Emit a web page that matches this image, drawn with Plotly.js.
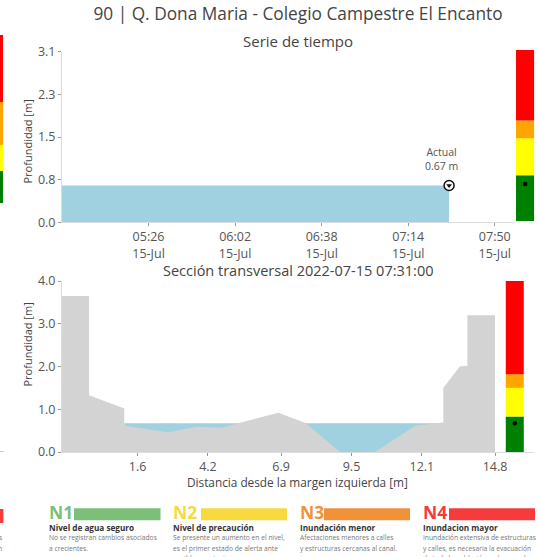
<!DOCTYPE html>
<html><head><meta charset="utf-8">
<script src="https://cdn.plot.ly/plotly-3.0.1.min.js"></script>
<style>html,body{margin:0;padding:0;background:#fff;} #chart{width:539px;height:557px;}</style>
</head><body><div id="chart"></div>
<script>
// ---------- data ----------
const chartTitle = '90 | Q. Dona Maria - Colegio Campestre El Encanto';
const seriesTitle = 'Serie de tiempo';
const sectionTitle = 'Sección transversal 2022-07-15 07:31:00';
const depthTitle = 'Profundidad [m]';
const distanceTitle = 'Distancia desde la margen izquierda [m]';

const times = ['2022-07-15 04:50','2022-07-15 05:00','2022-07-15 05:10','2022-07-15 05:20','2022-07-15 05:30',
  '2022-07-15 05:40','2022-07-15 05:50','2022-07-15 06:00','2022-07-15 06:10','2022-07-15 06:20',
  '2022-07-15 06:30','2022-07-15 06:40','2022-07-15 06:50','2022-07-15 07:00','2022-07-15 07:10',
  '2022-07-15 07:20','2022-07-15 07:31'];
const depth = [0.67,0.67,0.67,0.67,0.67,0.67,0.67,0.67,0.67,0.67,0.67,0.67,0.67,0.67,0.67,0.67,0.67];
const currentTime = '2022-07-15 07:31';
const currentDepth = 0.67;
const timeRange = ['2022-07-15 04:50','2022-07-15 07:58'];
const timeTickVals = ['2022-07-15 05:26','2022-07-15 06:02','2022-07-15 06:38','2022-07-15 07:14','2022-07-15 07:50'];
const timeTickText = ['05:26<br>15-Jul','06:02<br>15-Jul','06:38<br>15-Jul','07:14<br>15-Jul','07:50<br>15-Jul'];
const depthTickVals = [0, 0.775, 1.55, 2.325, 3.1];
const depthTickText = ['0.0','0.8','1.5','2.3','3.1'];
const seriesMax = 3.1;

const terrainX = [-1.19,-0.19,-0.19,1.11,1.11,2.74,3.78,4.71,6.80,7.80,9.08,10.37,11.85,12.89,12.89,13.50,13.78,13.78,14.80];
const terrainY = [3.65,3.65,1.33,1.02,0.615,0.46,0.59,0.57,0.92,0.68,0.0,0.0,0.615,0.69,1.50,2.00,2.02,3.20,3.20];
const waterX = [1.11, 12.89];
const waterY = [0.67, 0.67];
const distRange = [-1.19, 16.24];
const distTickVals = [1.6, 4.2, 6.9, 9.5, 12.1, 14.8];
const sectionTickVals = [0, 1, 2, 3, 4];
const sectionMax = 4.0;

const levelBase = [0, 0.83, 1.5, 1.82];
const levelColors = ['green','yellow','orange','red'];

const legendCodes = ['N1','N2','N3','N4'];
const legendColors = ['#7dbf7a','#f8d940','#f0923a','#f53b3b'];
const legendNames = ['Nivel de agua seguro','Nivel de precaución','Inundación menor','Inundacion mayor'];
const legendDesc = [
  ['No se registran cambios asociados','a crecientes.'],
  ['Se presente un aumento en el nivel,','es el primer estado de alerta ante','posibles crecientes.'],
  ['Afectaciones menores a calles','y estructuras cercanas al canal.'],
  ['Inundación extensiva de estructuras','y calles, es necesaria la evacuación','de toda la población en la zona de']
];
const sideLevelColors = ['red','orange','yellow','green'];

// ---------- layout helpers ----------
const W = 539, H = 557;
const px = p => p / W;
const py = p => 1 - p / H;
const FONT = '"Open Sans", Lato, sans-serif';
const TXT = '#444';

const traces = [];
traces.push({x: times, y: depth, type: 'scatter', mode: 'lines', fill: 'tozeroy',
  fillcolor: '#9fd1e1', line: {width: 0, color: '#9fd1e1'}, xaxis: 'x', yaxis: 'y', hoverinfo: 'skip'});
traces.push({x: [currentTime], y: [currentDepth], type: 'scatter', mode: 'markers',
  marker: {symbol: 'circle', size: 10, color: 'white', line: {color: '#111', width: 1.5}}, xaxis: 'x', yaxis: 'y'});
traces.push({x: [currentTime], y: [currentDepth], type: 'scatter', mode: 'markers',
  marker: {symbol: 'triangle-down', size: 5, color: '#111'}, xaxis: 'x', yaxis: 'y'});

function levelBars(xv, w, top, xa, ya) {
  for (let i = 0; i < levelBase.length; i++) {
    const b = levelBase[i];
    const t = i + 1 < levelBase.length ? levelBase[i + 1] : top;
    traces.push({type: 'bar', x: [xv], y: [t - b], base: [b], width: [w],
      marker: {color: levelColors[i], line: {width: 0}}, xaxis: xa, yaxis: ya, hoverinfo: 'skip'});
  }
  traces.push({x: [xv], y: [currentDepth], type: 'scatter', mode: 'markers',
    marker: {size: 4.5, color: '#000'}, xaxis: xa, yaxis: ya});
}
levelBars(0, 1, seriesMax, 'x2', 'y2');

traces.push({x: waterX, y: waterY, type: 'scatter', mode: 'lines', fill: 'tozeroy',
  fillcolor: '#9fd1e1', line: {width: 0}, xaxis: 'x3', yaxis: 'y3'});
traces.push({x: terrainX, y: terrainY, type: 'scatter', mode: 'lines', fill: 'tozeroy',
  fillcolor: '#d3d3d3', line: {width: 0, color: '#d3d3d3'}, xaxis: 'x3', yaxis: 'y3'});
levelBars(15.53, 0.665, sectionMax, 'x3', 'y3');

const axisCommon = {showgrid: false, zeroline: false, showline: true, linecolor: '#dcdcdc', linewidth: 1,
  ticks: 'outside', ticklen: 3, tickcolor: '#999', tickfont: {size: 12.5, color: '#555', family: FONT}};

const annotations = [];
const shapes = [];
function ann(text, x, y, opts) {
  annotations.push(Object.assign({xref: 'paper', yref: 'paper', x: px(x), y: py(y), text: text,
    showarrow: false, xanchor: 'center', yanchor: 'middle', font: {size: 12, color: TXT, family: FONT}}, opts || {}));
}
ann(seriesTitle, 297.5, 41.3, {font: {size: 15, color: TXT, family: FONT}});
ann(sectionTitle, 297.5, 270.3, {font: {size: 14.5, color: TXT, family: FONT}});
ann(depthTitle, 26.5, 141, {textangle: -90, font: {size: 11, color: TXT, family: FONT}});
ann(depthTitle, 26.5, 344, {textangle: -90, font: {size: 11, color: TXT, family: FONT}});
ann(distanceTitle, 297.5, 482.4, {font: {size: 11.8, color: TXT, family: FONT}});
annotations.push({xref: 'x', yref: 'y', x: currentTime, y: currentDepth, text: 'Actual<br>0.67 m',
  showarrow: false, xanchor: 'center', yanchor: 'bottom', xshift: -8, yshift: 10,
  font: {size: 10.5, color: '#555', family: FONT}});

const colX = [47, 170.5, 297.5, 421];
const barX0 = [74, 201, 324, 449];
const barX1 = [160.5, 287, 410, 535];
for (let i = 0; i < legendCodes.length; i++) {
  ann('<b>' + legendCodes[i] + '</b>', colX[i], 512, {xanchor: 'left', font: {size: 17.5, color: legendColors[i], family: FONT}});
  shapes.push({type: 'rect', xref: 'paper', yref: 'paper', x0: px(barX0[i]), x1: px(barX1[i]), y0: py(520.2), y1: py(508.2),
    fillcolor: legendColors[i], line: {width: 0}});
  ann('<b>' + legendNames[i] + '</b>', colX[i], 527, {xanchor: 'left', font: {size: 8.2, color: '#333', family: FONT}});
  legendDesc[i].forEach((l, j) => ann(l, colX[i], 537.6 + j * 10.6, {xanchor: 'left', font: {size: 6.7, color: '#777', family: FONT}}));
}
const sideY = [35, 102, 145, 171, 203];
for (let i = 0; i < 4; i++) {
  shapes.push({type: 'rect', xref: 'paper', yref: 'paper', x0: 0, x1: px(3), y0: py(sideY[i + 1]), y1: py(sideY[i]),
    fillcolor: sideLevelColors[i], line: {width: 0}});
}
shapes.push({type: 'line', xref: 'paper', yref: 'paper', x0: 0, x1: px(4), y0: py(451.5), y1: py(451.5), line: {color: '#ccc', width: 1}});
shapes.push({type: 'rect', xref: 'paper', yref: 'paper', x0: 0, x1: px(3.4), y0: py(523), y1: py(509), fillcolor: '#f53b3b', line: {width: 0}});
ann('s', 3.5, 537.6, {xanchor: 'right', font: {size: 6.7, color: '#777', family: FONT}});
ann('n', 3.5, 548.2, {xanchor: 'right', font: {size: 6.7, color: '#777', family: FONT}});

const layout = {
  width: W, height: H, margin: {l: 0, r: 0, t: 0, b: 0}, paper_bgcolor: '#fff', plot_bgcolor: '#fff',
  showlegend: false, barmode: 'overlay', font: {family: FONT, color: TXT},
  title: {text: chartTitle, x: px(298), y: py(14.4), xref: 'paper', yref: 'paper', xanchor: 'center', yanchor: 'middle',
    font: {size: 17.3, color: TXT, family: FONT}},
  xaxis: Object.assign({}, axisCommon, {domain: [px(62), px(514)], anchor: 'y', type: 'date', range: timeRange,
    tickmode: 'array', tickvals: timeTickVals, ticktext: timeTickText}),
  yaxis: Object.assign({}, axisCommon, {domain: [py(222.4), py(51.6)], anchor: 'x', range: [0, seriesMax],
    tickmode: 'array', tickvals: depthTickVals, ticktext: depthTickText}),
  xaxis2: {domain: [px(516), px(534.3)], anchor: 'y2', range: [-0.5, 0.5], visible: false},
  yaxis2: {domain: [py(221), py(50)], anchor: 'x2', range: [0, seriesMax], visible: false},
  xaxis3: Object.assign({}, axisCommon, {domain: [px(62), px(534)], anchor: 'y3', range: distRange,
    tickmode: 'array', tickvals: distTickVals, tickformat: '.1f'}),
  yaxis3: Object.assign({}, axisCommon, {domain: [py(452), py(281)], anchor: 'x3', range: [0, sectionMax],
    tickmode: 'array', tickvals: sectionTickVals, tickformat: '.1f'}),
  annotations: annotations, shapes: shapes
};
Plotly.newPlot('chart', traces, layout, {staticPlot: true, displayModeBar: false});
</script></body></html>
